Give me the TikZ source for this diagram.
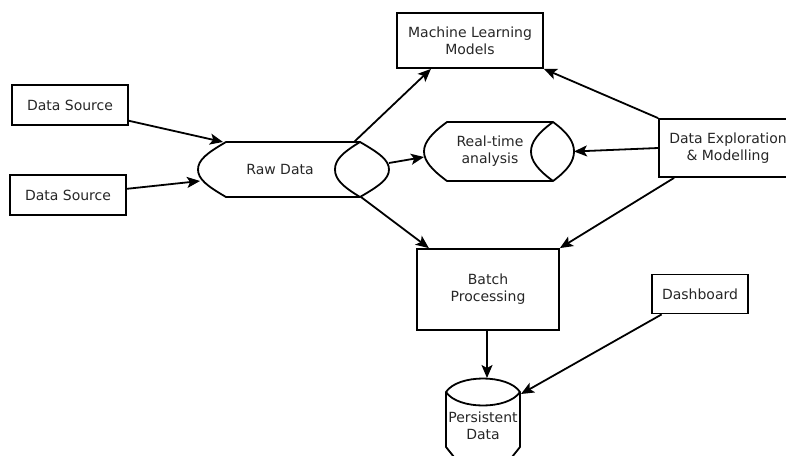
\documentclass[tikz,border=0pt]{standalone}
\usepackage{fontspec}
\setmainfont{DejaVu Sans}
\usetikzlibrary{arrows.meta}
\begin{document}
\begin{tikzpicture}[x=1pt,y=-1pt,
  txt/.style={font=\fontsize{14}{17}\selectfont,text=black!85,align=center},
  box/.style={txt,draw,line width=1.8pt,rectangle,inner sep=0pt},
  lbl/.style={txt,inner sep=0pt},
  shapeline/.style={draw,line width=1.8pt,line join=round},
  arr/.style={line width=1.8pt,-{Stealth[length=13pt,width=11pt,inset=3pt]}}]
\useasboundingbox (0,0) rectangle (786,455);
\clip (0,0) rectangle (786,455);
% boxes
\node[box,minimum width=116pt,minimum height=40pt] (ds1) at (70,105) {Data Source};
\node[box,minimum width=116pt,minimum height=40pt] (ds2) at (68,195) {Data Source};
\node[box,minimum width=146pt,minimum height=55pt] (ml) at (470,40.5) {Machine Learning\\Models};
\node[box,minimum width=142pt,minimum height=81pt] (batch) at (488,289.5) {Batch\\Processing};
\node[box,minimum width=96pt,minimum height=39pt] (dash) at (700,294) {Dashboard};
\node[box,minimum width=138pt,minimum height=58pt] (de) at (728,148) {Data Exploration\\\& Modelling};
% raw data shape
\node[lbl] (raw) at (280,169.5) {Raw Data};
\draw[shapeline] (226,142) -- (360,142) .. controls (379,153) and (389,160) .. (389,169.5) .. controls (389,179) and (379,186) .. (360,197) -- (226,197) .. controls (207,186) and (198,179) .. (198,169.5) .. controls (198,160) and (207,153) .. cycle;
\draw[shapeline] (360,142) .. controls (342,153) and (335,160) .. (335,169.5) .. controls (335,179) and (342,186) .. (360,197);
% real-time shape
\node[lbl] (rt) at (490,151.5) {Real-time\\analysis};
\draw[shapeline] (447,122) -- (553,122) .. controls (568,133) and (574,142) .. (574,151.5) .. controls (574,161) and (568,170) .. (553,181) -- (447,181) .. controls (432,170) and (424,161) .. (424,151.5) .. controls (424,142) and (432,133) .. cycle;
\draw[shapeline] (553,122) .. controls (538,133) and (531,142) .. (531,151.5) .. controls (531,161) and (538,170) .. (553,181);
% persistent data shape
\node[lbl] (pd) at (483,426) {Persistent\\Data};
\draw[shapeline] (446,392) .. controls (458,374) and (508,374) .. (520,392) -- (520,447) -- (508,462) -- (458,462) -- (446,447) -- cycle;
\draw[shapeline] (446,392) .. controls (458,410) and (508,410) .. (520,392);
% connector end points
\coordinate (rawTL) at (223,142);
\coordinate (rawL) at (200,181);
\coordinate (rawTR) at (354,142);
\coordinate (rawR) at (389,163);
\coordinate (rawB) at (361,197);
\coordinate (rtL) at (424,157);
\coordinate (rtR) at (574,151.5);
\coordinate (pdTop) at (487,378);
\coordinate (pdTR) at (521,394);
% connectors
\draw[arr] (ds1.-15) -- (rawTL);
\draw[arr] (ds2.6) -- (rawL);
\draw[arr] (rawTR) -- (ml.216);
\draw[arr] (rawR) -- (rtL);
\draw[arr] (rawB) -- (batch.145);
\draw[arr] (de.west) -- (rtR);
\draw[arr] (de.north west) -- (ml.south east);
\draw[arr] (de.209) -- (batch.north east);
\draw[arr] (batch.south -| pdTop) -- (pdTop);
\draw[arr] (dash.208) -- (pdTR);
\end{tikzpicture}
\end{document}
